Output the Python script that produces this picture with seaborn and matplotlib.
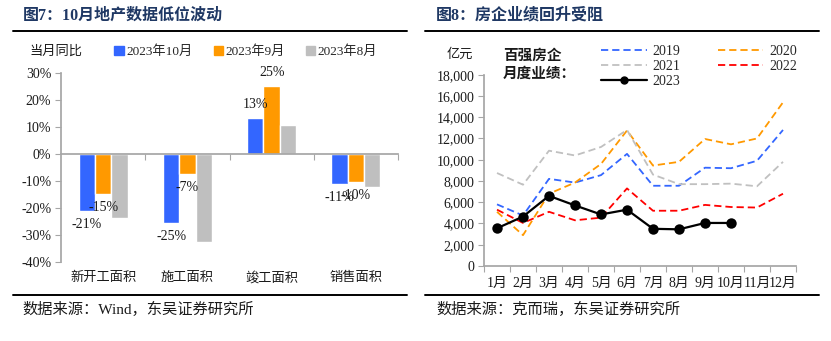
import numpy as np
import pandas as pd
import matplotlib
matplotlib.use("Agg")
import matplotlib.pyplot as plt
import seaborn as sns
from matplotlib.lines import Line2D
from matplotlib.patches import Patch
import matplotlib.ticker as mticker

sns.set_theme(style="ticks")
plt.rcParams["font.family"] = ["Liberation Serif", "Noto Sans CJK SC"]
plt.rcParams["axes.unicode_minus"] = False

# ---- 图7: floor-area YoY by month ----
areas = ["新开工面积", "施工面积", "竣工面积", "销售面积"]
periods = ["2023年10月", "2023年9月", "2023年8月"]
yoy_oct = [-21.1, -25.4, 13.4, -11.1]
yoy_sep = [-14.7, -7.3, 25.4, -10.4]
yoy_aug = [-23.6, -32.7, 10.7, -12.2]
bar_colors = ["#3366FF", "#FF9900", "#BFBFBF"]

# ---- 图8: top-100 developers' monthly sales (亿元) ----
months = [f"{i}月" for i in range(1, 13)]
years = ["2019", "2020", "2021", "2022", "2023"]
sales_2019 = [5800, 4750, 8200, 7850, 8550, 10550, 7550, 7550, 9250, 9200, 9900, 12800]
sales_2020 = [5100, 2900, 6800, 7850, 9600, 12750, 9450, 9800, 11950, 11450, 12000, 15400]
sales_2021 = [8750, 7650, 10850, 10400, 11200, 12800, 8600, 7700, 7700, 7750, 7500, 9800]
sales_2022 = [5300, 4050, 5100, 4300, 4550, 7300, 5200, 5200, 5750, 5550, 5500, 6800]
sales_2023 = [3550, 4650, 6600, 5700, 4850, 5300, 3500, 3450, 4050, 4050]
line_colors = ["#3366FF", "#FF9900", "#C0C0C0", "#FF0000", "#000000"]

W, H = 831, 341
fig = plt.figure(figsize=(W / 100, H / 100), dpi=100)
fig.patch.set_facecolor("white")

title_color = "#1F3864"
axis_gray = "#A6A6A6"
text_color = "#1A1A1A"

# ================= left panel =================
ax1 = fig.add_axes([61 / W, 1 - 262 / H, 337 / W, (262 - 73.3) / H])
df_bar = pd.DataFrame({
    "area": areas * 3,
    "period": np.repeat(periods, len(areas)),
    "value": yoy_oct + yoy_sep + yoy_aug,
})
sns.barplot(data=df_bar, x="area", y="value", hue="period", hue_order=periods,
            palette=bar_colors, width=0.58, saturation=1, legend=False, ax=ax1)
ax1.set_ylim(-40, 30)
ax1.set_xlim(-0.5, len(areas) - 0.5)
ax1.set_yticks(np.arange(-40, 31, 10))
ax1.yaxis.set_major_formatter(mticker.StrMethodFormatter("{x:.0f}%"))
ax1.set_xlabel("")
ax1.set_ylabel("")
for s in ["top", "right"]:
    ax1.spines[s].set_visible(False)
ax1.spines["left"].set_color(axis_gray)
ax1.spines["bottom"].set_color(axis_gray)
ax1.spines["bottom"].set_position(("data", 0))
ax1.tick_params(axis="y", colors=axis_gray, labelcolor=text_color, labelsize=10,
                length=4, width=0.8, direction="out", pad=3)
ax1.tick_params(axis="x", which="major", length=0, labelbottom=False)
ax1.set_xticks(np.arange(0.5, len(areas) - 0.4, 1), minor=True)
ax1.tick_params(axis="x", which="minor", colors=axis_gray, length=4, width=0.8,
                direction="out")
for xpos, name in zip(ax1.get_xticks(), areas):
    ax1.text(xpos, -0.085, name, transform=ax1.get_xaxis_transform(),
             ha="center", va="center", fontsize=9.5, color=text_color)

for cont, vals in zip(ax1.containers[:2], [yoy_oct, yoy_sep]):
    ax1.bar_label(cont, labels=[f"{v:.0f}%" for v in vals], padding=5,
                  fontsize=10, color=text_color)

fig.text(29 / W, 1 - 52 / H, "当月同比", fontsize=9.5, color=text_color,
         ha="left", va="center")
fig.legend(handles=[Patch(color=c) for c in bar_colors], labels=periods,
           loc="center left", bbox_to_anchor=(109 / W, 1 - 52 / H), ncol=3,
           frameon=False, handlelength=0.7, handleheight=0.7,
           handletextpad=0.2, columnspacing=1.6, fontsize=9.5,
           borderaxespad=0)

# ================= right panel =================
ax2 = fig.add_axes([484 / W, 1 - 266 / H, 312 / W, (266 - 74.7) / H])
series = [sales_2019, sales_2020, sales_2021, sales_2022, sales_2023]
for yr, vals, col in zip(years, series, line_colors):
    d = pd.DataFrame({"m": np.arange(1, len(vals) + 1), "v": vals})
    if yr == "2023":
        sns.lineplot(data=d, x="m", y="v", color=col, lw=1.6, marker="o",
                     markersize=7.5, markeredgewidth=0, ax=ax2)
    else:
        sns.lineplot(data=d, x="m", y="v", color=col, lw=1.3, ax=ax2)
        ax2.lines[-1].set_dashes((4, 2.2))
ax2.set_xlim(0.5, 12.5)
ax2.set_ylim(0, 18000)
ax2.set_yticks(np.arange(0, 18001, 2000))
ax2.yaxis.set_major_formatter(mticker.StrMethodFormatter("{x:,.0f}"))
ax2.set_xticks(np.arange(1, 13))
ax2.set_xticklabels(months)
ax2.set_xticks(np.arange(0.5, 12.6, 1), minor=True)
ax2.set_xlabel("")
ax2.set_ylabel("")
for s in ["top", "right"]:
    ax2.spines[s].set_visible(False)
ax2.spines["left"].set_color(axis_gray)
ax2.spines["bottom"].set_color(axis_gray)
ax2.tick_params(axis="y", colors=axis_gray, labelcolor=text_color, labelsize=10,
                length=4, width=0.8, pad=3)
ax2.tick_params(axis="x", which="major", length=0, labelcolor=text_color,
                labelsize=10, pad=8)
ax2.tick_params(axis="x", which="minor", colors=axis_gray, length=4, width=0.8)

fig.text(447 / W, 1 - 55 / H, "亿元", fontsize=9.5, color=text_color,
         ha="left", va="center")
fig.text(503 / W, 1 - 56 / H, "百强房企", fontsize=10.5, fontweight="bold",
         color=text_color, ha="left", va="center")
fig.text(503 / W, 1 - 74 / H, "月度业绩：", fontsize=10.5, fontweight="bold",
         color=text_color, ha="left", va="center")

handles = []
for yr, col in zip(years, line_colors):
    if yr == "2023":
        handles.append(Line2D([], [], color=col, lw=1.6, marker="o", markersize=5))
    else:
        handles.append(Line2D([], [], color=col, lw=1.3, dashes=(4, 2.2)))
order = [0, 2, 4, 1, 3]
fig.legend([handles[i] for i in order], [years[i] for i in order],
           loc="upper left", bbox_to_anchor=(598 / W, 1 - 42 / H), ncol=2,
           frameon=False, handlelength=3.3, handletextpad=0.4,
           columnspacing=2.7, labelspacing=0.14, fontsize=10,
           borderaxespad=0, borderpad=0.2)

# ================= titles, rules, sources =================
fig.text(23 / W, 1 - 16 / H, "图7：10月地产数据低位波动", fontsize=11.5,
         fontweight="bold", color=title_color, ha="left", va="center")
fig.text(436 / W, 1 - 16 / H, "图8：房企业绩回升受阻", fontsize=11.5,
         fontweight="bold", color=title_color, ha="left", va="center")
for x0, x1 in [(13, 407), (425, 819)]:
    for yy in (31, 294.5):
        fig.add_artist(Line2D([x0 / W, x1 / W], [1 - yy / H] * 2,
                              color="black", lw=1.4))
fig.text(22 / W, 1 - 309 / H, "数据来源：Wind，东吴证券研究所", fontsize=11,
         color=text_color, ha="left", va="center")
fig.text(436 / W, 1 - 309 / H, "数据来源：克而瑞，东吴证券研究所", fontsize=11,
         color=text_color, ha="left", va="center")

fig.savefig("out.png", dpi=100, facecolor="white")
